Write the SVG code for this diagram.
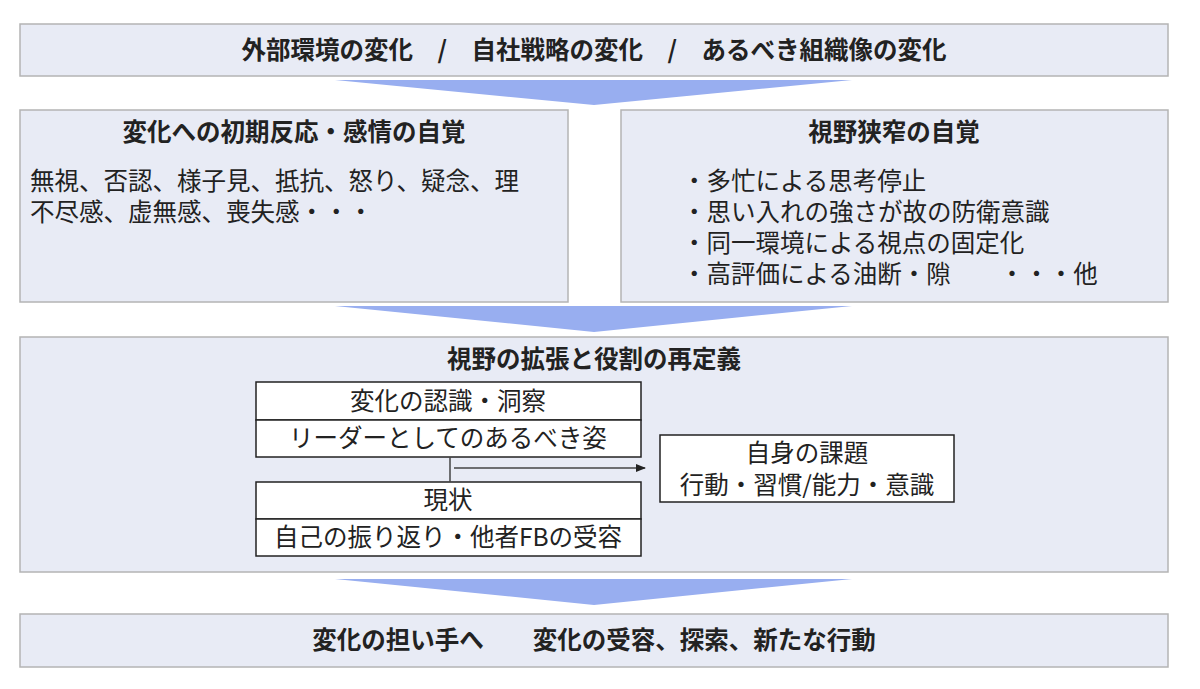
<svg xmlns="http://www.w3.org/2000/svg" width="1200" height="689" viewBox="0 0 1200 689">
<style>
.box{fill:#e8ebf5;stroke:#b4b4b4;stroke-width:1.5}
.in{fill:#fff;stroke:#222;stroke-width:1.5}
.chev{fill:#98aef0}
text{font-family:"Noto Sans CJK JP","Noto Sans",sans-serif;fill:#222;font-size:24.5px}
.b{font-weight:bold}
.c{text-anchor:middle}
</style>
<defs><marker id="ah" markerWidth="10" markerHeight="8" refX="9" refY="4" orient="auto" markerUnits="userSpaceOnUse"><path d="M0,0L10,4L0,8z" fill="#222"/></marker></defs>
<rect width="1200" height="689" fill="#fff"/>
<g id="top"><rect class="box" x="20" y="24" width="1148" height="52"/><text class="c b" x="594" y="59">外部環境の変化　/　自社戦略の変化　/　あるべき組織像の変化</text></g>
<g id="left"><rect class="box" x="20" y="110" width="548" height="192"/><text class="c b" x="294" y="141">変化への初期反応・感情の自覚</text>
<text x="30" y="190">無視、否認、様子見、抵抗、怒り、疑念、理</text><text x="30" y="221">不尽感、虚無感、喪失感・・・</text></g>
<g id="right"><rect class="box" x="621" y="110" width="547" height="192"/><text class="c b" x="894" y="141">視野狭窄の自覚</text>
<text x="682" y="190">・多忙による思考停止</text><text x="682" y="221">・思い入れの強さが故の防衛意識</text><text x="682" y="252">・同一環境による視点の固定化</text><text x="682" y="283">・高評価による油断・隙　　・・・他</text></g>
<g id="mid"><rect class="box" x="20" y="337" width="1148" height="235"/><text class="c b" x="594" y="368">視野の拡張と役割の再定義</text></g>
<g id="ideal"><rect class="in" x="256" y="382" width="385" height="38"/><text class="c" x="448" y="410">変化の認識・洞察</text><rect class="in" x="256" y="420" width="385" height="37"/><text class="c" x="448" y="447">リーダーとしてのあるべき姿</text></g>
<g id="now"><rect class="in" x="256" y="482" width="385" height="37"/><text class="c" x="448" y="509">現状</text><rect class="in" x="256" y="519" width="385" height="37"/><text class="c" x="448" y="546">自己の振り返り・他者FBの受容</text></g>
<g id="issue"><rect class="in" x="660" y="435" width="294" height="67"/><text class="c" x="807" y="462">自身の課題</text><text class="c" x="807" y="494">行動・習慣/能力・意識</text></g>
<g id="bottom"><rect class="box" x="20" y="614" width="1148" height="53"/><text class="c b" x="594" y="649">変化の担い手へ　　変化の受容、探索、新たな行動</text></g>
<g id="connectors">
<polygon class="chev" points="335,80 852,80 594,105"/>
<polygon class="chev" points="335,306 852,306 594,332"/>
<polygon class="chev" points="335,579 852,579 594,605"/>
<line x1="450" y1="457" x2="450" y2="482" stroke="#444" stroke-width="1.5"/>
<line x1="454" y1="468" x2="645" y2="468" stroke="#444" stroke-width="1.5" marker-end="url(#ah)"/>
</g>
</svg>
